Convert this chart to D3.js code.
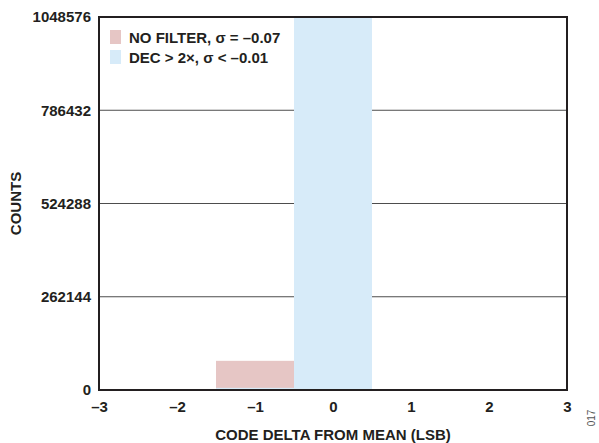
<!DOCTYPE html>
<html lang="en">
<head>
  <meta charset="UTF-8">
  <title>Code delta histogram</title>
  <style>
    body { margin: 0; background: #fff; }
    text { font-family: "Liberation Sans", Arial, sans-serif; font-weight: bold; fill: #231f20; }
  </style>
</head>
<body>
  <script src="https://cdn.jsdelivr.net/npm/d3@7"></script>
  <script>
    // data
    let bins = [-1, 0];
    let noFilter = [82000, 966000];
    let dec2x = [6000, 1048576];
    let xTicks = [-3, -2, -1, 0, 1, 2, 3];
    let yTicks = [0, 262144, 524288, 786432, 1048576];
    let seriesNames = ['NO FILTER, σ = –0.07', 'DEC > 2×, σ < –0.01'];
    let colors = ['#e6c6c5', '#d7ebf9'];

    let width = 599, height = 443;
    let plotLeft = 99, plotRight = 567, plotTop = 17, plotBottom = 390;
    let fs = 15;

    let svg = d3.select('body').append('svg')
      .attr('width', width)
      .attr('height', height);

    let x = d3.scaleLinear().domain([-3, 3]).range([plotLeft, plotRight]);
    let y = d3.scaleLinear().domain([0, 1048576]).range([plotBottom, plotTop]);

    // gridlines
    svg.append('g')
      .selectAll('line')
      .data(yTicks.slice(1, -1))
      .enter()
      .append('line')
      .attr('x1', plotLeft).attr('x2', plotRight)
      .attr('y1', d => y(d)).attr('y2', d => y(d))
      .attr('stroke', '#4d4d4d')
      .attr('stroke-width', 1);

    // bars: pink first, blue on top
    [noFilter, dec2x].forEach(function(vals, s) {
      svg.append('g')
        .selectAll('rect')
        .data(vals)
        .enter()
        .append('rect')
        .attr('x', (d, i) => x(bins[i] - 0.5))
        .attr('width', (d, i) => x(bins[i] + 0.5) - x(bins[i] - 0.5))
        .attr('y', d => y(d))
        .attr('height', d => plotBottom - y(d))
        .attr('fill', colors[s]);
    });

    // axes
    let xAxis = d3.axisBottom(x).tickValues(xTicks).tickSize(0).tickPadding(11)
      .tickFormat(d => d < 0 ? '–' + Math.abs(d) : d);
    let yAxis = d3.axisLeft(y).tickValues(yTicks).tickSize(0).tickPadding(8)
      .tickFormat(d3.format('d'));

    let gx = svg.append('g')
      .attr('transform', 'translate(0,' + plotBottom + ')')
      .call(xAxis);
    let gy = svg.append('g')
      .attr('transform', 'translate(' + plotLeft + ',0)')
      .call(yAxis);
    [gx, gy].forEach(function(g) {
      g.select('.domain').remove();
      g.selectAll('text').attr('font-size', fs).attr('fill', '#231f20')
        .style('font-family', '"Liberation Sans", Arial, sans-serif').style('font-weight', 'bold');
    });

    // frame
    svg.append('rect')
      .attr('x', plotLeft).attr('y', plotTop)
      .attr('width', plotRight - plotLeft).attr('height', plotBottom - plotTop)
      .attr('fill', 'none')
      .attr('stroke', '#231f20')
      .attr('stroke-width', 2);

    // legend
    let legend = svg.append('g').attr('transform', 'translate(110,30)');
    seriesNames.forEach(function(name, i) {
      legend.append('rect')
        .attr('x', 0).attr('y', i * 20)
        .attr('width', 11).attr('height', 14)
        .attr('fill', colors[i]);
      legend.append('text')
        .attr('x', 19).attr('y', i * 20 + 12.5)
        .attr('font-size', fs)
        .text(name);
    });

    // axis titles
    svg.append('text')
      .attr('x', (plotLeft + plotRight) / 2).attr('y', 440)
      .attr('text-anchor', 'middle')
      .attr('font-size', fs)
      .text('CODE DELTA FROM MEAN (LSB)');
    svg.append('text')
      .attr('transform', 'translate(21,' + ((plotTop + plotBottom) / 2) + ') rotate(-90)')
      .attr('text-anchor', 'middle')
      .attr('font-size', fs)
      .text('COUNTS');
    svg.append('text')
      .attr('transform', 'translate(595,418) rotate(-90)')
      .attr('text-anchor', 'middle')
      .attr('font-size', 10)
      .style('font-weight', 'normal')
      .style('fill', '#555')
      .text('017');
  </script>
</body>
</html>
